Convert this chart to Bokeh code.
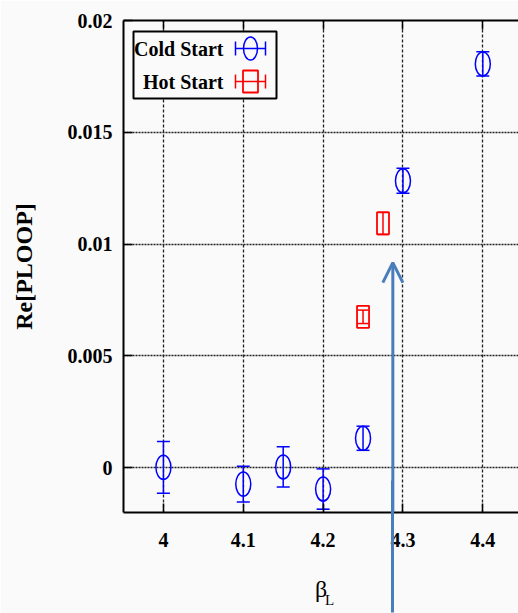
from bokeh.plotting import figure
from bokeh.models import (Range1d, LinearAxis, FixedTicker, Whisker, TeeHead,
                          ColumnDataSource, Arrow, OpenHead)
from bokeh.embed import file_html
from bokeh.resources import INLINE
from bokeh.core.properties import value

# ---------------- data ----------------
cold_beta = [4.0, 4.1, 4.15, 4.2, 4.25, 4.3, 4.4]
cold_re = [0.00002, -0.00073, 0.00004, -0.00095, 0.00132, 0.01283, 0.01806]
cold_err = [0.00116, 0.0008, 0.0009, 0.0009, 0.00054, 0.00056, 0.00054]

hot_beta = [4.25, 4.275]
hot_re = [0.00675, 0.01093]
hot_err = [0.0003, 0.0005]

x_ticks = [4.0, 4.1, 4.2, 4.3, 4.4]
x_tick_labels = ["4", "4.1", "4.2", "4.3", "4.4"]
y_ticks = [0.0, 0.005, 0.01, 0.015, 0.02]
y_tick_labels = ["0", "0.005", "0.01", "0.015", "0.02"]

legend_labels = ["Cold Start", "Hot Start"]

x_lo, x_hi = 3.95, 4.4447
y_lo, y_hi = -0.002, 0.02

arrow_beta = 4.2873
arrow_tip = 0.00917

# ---------------- style ----------------
W, H = 518, 613
FL, FT, FB = 123, 20, 101
FW, FH = W - FL, H - FT - FB
BG = "#fafafa"
BLUE = "#0000ff"
RED = "#ff0000"
ARROW = "#4a7ebb"
SERIF = "Liberation Serif"

p = figure(width=W, height=H,
           x_range=Range1d(x_lo, x_hi), y_range=Range1d(y_lo, y_hi),
           output_backend="svg", toolbar_location=None,
           min_border_left=FL, min_border_right=0,
           min_border_top=FT, min_border_bottom=FB,
           background_fill_color=BG, border_fill_color=BG,
           outline_line_color=None)

p.extra_x_ranges = {"px": Range1d(0, FW)}
p.extra_y_ranges = {"px": Range1d(0, FH)}

# axes
xa = p.xaxis[0]
xa.ticker = FixedTicker(ticks=x_ticks)
xa.major_label_overrides = {t: l for t, l in zip(x_ticks, x_tick_labels)}
ya = p.yaxis[0]
ya.ticker = FixedTicker(ticks=y_ticks)
ya.major_label_overrides = {t: l for t, l in zip(y_ticks, y_tick_labels)}

for ax in (xa, ya):
    ax.axis_line_width = 2
    ax.axis_line_color = "black"
    ax.major_tick_in = 9
    ax.major_tick_out = 0
    ax.major_tick_line_width = 1.5
    ax.minor_tick_in = 0
    ax.minor_tick_out = 0
    ax.major_label_text_font = SERIF
    ax.major_label_text_font_style = "bold"
    ax.major_label_text_font_size = "20px"
    ax.major_label_text_color = "black"
    ax.axis_label_text_color = "black"
    ax.axis_label_text_font = SERIF

xa.major_label_standoff = 20
ya.major_label_standoff = 11

xa.axis_label = "β"
xa.axis_label_text_font_style = "normal"
xa.axis_label_text_font_size = "24px"
xa.axis_label_standoff = 26

ya.axis_label = "Re[PLOOP]"
ya.axis_label_text_font_style = "bold"
ya.axis_label_text_font_size = "24px"
ya.axis_label_standoff = 28

# top frame line with inward ticks (no labels drawn)
top = LinearAxis(ticker=FixedTicker(ticks=x_ticks), major_label_text_color=None,
                 major_label_text_font_size="1px", major_label_standoff=0,
                 major_tick_in=9, major_tick_out=0, major_tick_line_width=1.5,
                 minor_tick_in=0, minor_tick_out=0,
                 axis_line_width=2, axis_line_color="black")
p.add_layout(top, "above")

# subscript "L" of the x-axis title (label of a tick-less axis stacked under the x axis)
sub_beta = 4.208
sub = LinearAxis(ticker=FixedTicker(ticks=[sub_beta]),
                 major_label_overrides={sub_beta: "L"},
                 major_label_text_font=SERIF, major_label_text_font_size="15px",
                 major_label_text_color="black", major_label_standoff=-13,
                 major_tick_in=0, major_tick_out=0, major_tick_line_color=None,
                 minor_tick_in=0, minor_tick_out=0, axis_line_color=None)
p.add_layout(sub, "below")

# lower part of the arrow shaft, below the frame (a long inward tick of a bottom axis)
shaft = LinearAxis(ticker=FixedTicker(ticks=[arrow_beta]),
                   major_label_text_color=None, major_label_text_font_size="1px",
                   major_label_standoff=0, major_tick_in=130, major_tick_out=2,
                   major_tick_line_color=ARROW, major_tick_line_width=3,
                   major_tick_line_cap="butt",
                   minor_tick_in=0, minor_tick_out=0, axis_line_color=None)
p.add_layout(shaft, "below")

# grid
p.xgrid.ticker = FixedTicker(ticks=x_ticks)
p.ygrid.ticker = FixedTicker(ticks=y_ticks[:-1])
p.xgrid.grid_line_color = "#222222"
p.xgrid.grid_line_dash = "3 2"
p.xgrid.grid_line_width = 1.3
p.ygrid.grid_line_color = "#222222"
p.ygrid.grid_line_dash = "2 1"
p.ygrid.grid_line_width = 1.5

# data sources
cold_src = ColumnDataSource(dict(
    x=cold_beta, y=cold_re,
    lo=[v - e for v, e in zip(cold_re, cold_err)],
    hi=[v + e for v, e in zip(cold_re, cold_err)]))
hot_src = ColumnDataSource(dict(
    x=hot_beta, y=hot_re,
    lo=[v - e for v, e in zip(hot_re, hot_err)],
    hi=[v + e for v, e in zip(hot_re, hot_err)]))

for src, col, cap in ((cold_src, BLUE, 13), (hot_src, RED, 11)):
    p.add_layout(Whisker(source=src, base="x", lower="lo", upper="hi",
                         dimension="height", line_color=col, line_width=1.5,
                         lower_head=TeeHead(size=cap, line_color=col, line_width=1.5),
                         upper_head=TeeHead(size=cap, line_color=col, line_width=1.5)))

p.ellipse(x="x", y="y", width=15, height=24, width_units="screen",
          height_units="screen", source=cold_src, fill_color=None,
          line_color=BLUE, line_width=1.5)
p.rect(x="x", y="y", width=12, height=22, width_units="screen",
       height_units="screen", source=hot_src, fill_color=None,
       line_color=RED, line_width=1.8)

# legend (drawn in frame pixel space)
LB = dict(x_range_name="px", y_range_name="px")
p.quad(left=[10], right=[153], bottom=[414], top=[481], fill_color=BG,
       line_color="black", line_width=2, **LB)
rows_y = [464, 431]
sx0, sx1, scx = 112, 142, 127
p.text(x=[100, 100], y=rows_y, text=legend_labels, text_align="right",
       text_baseline="middle", text_font=value(SERIF), text_font_style="bold",
       text_font_size="20px", text_color="black", **LB)
for yy, col in zip(rows_y, (BLUE, RED)):
    p.segment(x0=[sx0], y0=[yy], x1=[sx1], y1=[yy], line_color=col, line_width=1.5, **LB)
    p.segment(x0=[sx0, sx1], y0=[yy - 7, yy - 7], x1=[sx0, sx1], y1=[yy + 7, yy + 7],
              line_color=col, line_width=1.5, **LB)
p.ellipse(x=[scx], y=[rows_y[0]], width=14, height=23, width_units="screen",
          height_units="screen", fill_color=None, line_color=BLUE, line_width=1.5, **LB)
p.rect(x=[scx], y=[rows_y[1]], width=15, height=22, width_units="screen",
       height_units="screen", fill_color=None, line_color=RED, line_width=1.8, **LB)

# arrow (upper part, inside the frame)
p.add_layout(Arrow(end=OpenHead(size=20, line_color=ARROW, line_width=3),
                   x_start=arrow_beta, y_start=y_lo,
                   x_end=arrow_beta, y_end=arrow_tip,
                   line_color=ARROW, line_width=3))

open("out.html", "w").write(file_html(p, INLINE))
